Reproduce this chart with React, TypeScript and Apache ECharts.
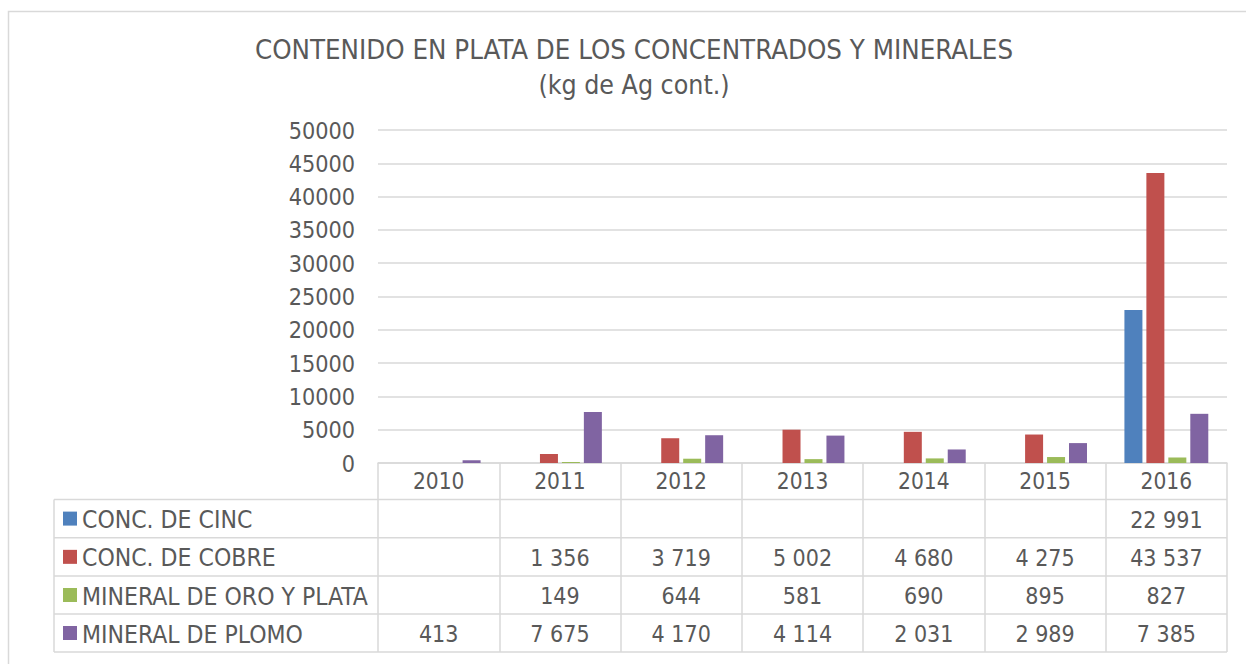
import React, { useEffect, useRef } from "react";
import * as echarts from "echarts";

const years = ["2010", "2011", "2012", "2013", "2014", "2015", "2016"];
const seriesNames = ["CONC. DE CINC", "CONC. DE COBRE", "MINERAL DE ORO Y PLATA", "MINERAL DE PLOMO"];
const cinc: (number | null)[] = [null, null, null, null, null, null, 22991];
const cobre: (number | null)[] = [null, 1356, 3719, 5002, 4680, 4275, 43537];
const oroPlata: (number | null)[] = [null, 149, 644, 581, 690, 895, 827];
const plomo: (number | null)[] = [413, 7675, 4170, 4114, 2031, 2989, 7385];
const colors = ["#4F81BD", "#C0504D", "#9BBB59", "#8064A2"];
const titleLines = ["CONTENIDO EN PLATA DE LOS CONCENTRADOS Y MINERALES", "(kg de Ag cont.)"];
const titleSizes = [27.4, 26.5];

const FONT = "'DejaVu Sans Condensed', 'DejaVu Sans', sans-serif";
const TXT = "#595959";
const LINE = "#d9d9d9";

function fmt(v: number | null): string {
  if (v === null || v === undefined) return "";
  return String(v).replace(/\B(?=(\d{3})+(?!\d))/g, " ");
}

export default function App() {
  const ref = useRef<HTMLDivElement>(null);
  useEffect(() => {
    document.body.style.margin = "0";
    const chart = echarts.init(ref.current!, undefined, { renderer: "svg" });
    const allSeries = [cinc, cobre, oroPlata, plomo];
    const gridLeft = 378;
    const gridRight = 1227;
    const gridBottomY = 463;
    const tableLeft = 54;
    const rowLines = [499.5, 537.7, 576, 614, 652];
    chart.setOption({
      animation: false,
      color: colors,
      textStyle: { fontFamily: FONT },
      grid: { left: gridLeft, right: 1246 - gridRight, top: 130, bottom: 664 - gridBottomY },
      xAxis: {
        type: "category",
        data: years,
        axisLine: { show: true, lineStyle: { color: LINE, width: 1.5 } },
        axisTick: { show: true, interval: 0, length: rowLines[rowLines.length - 1] - gridBottomY, lineStyle: { color: LINE, width: 1.5 } },
        axisLabel: { color: TXT, fontSize: 22.5, margin: 6, fontFamily: FONT },
      },
      yAxis: {
        type: "value",
        min: 0,
        max: 50000,
        interval: 5000,
        axisLine: { show: false },
        axisTick: { show: false },
        axisLabel: { color: TXT, fontSize: 23.2, margin: 23, fontFamily: FONT, formatter: (v: number) => String(v) },
        splitLine: { lineStyle: { color: LINE, width: 1.5 } },
      },
      series: allSeries.map((d, i) => ({
        type: "bar",
        name: seriesNames[i],
        data: d,
        barWidth: 18,
        barGap: "22%",
        itemStyle: { color: colors[i] },
      })),
    });

    const graphics: any[] = [];
    graphics.push({
      type: "rect",
      shape: { x: 8.5, y: 11.5, width: 1300, height: 700 },
      style: { fill: "none", stroke: LINE, lineWidth: 1.5 },
      silent: true,
    });
    titleLines.forEach((t, i) => {
      graphics.push({
        type: "text",
        x: 634,
        y: 49 + i * 35,
        style: { text: t, fill: TXT, fontSize: titleSizes[i], fontFamily: FONT, textAlign: "center", textVerticalAlign: "middle" },
      });
    });
    rowLines.forEach((y) => {
      graphics.push({
        type: "line",
        shape: { x1: tableLeft, y1: y, x2: gridRight, y2: y },
        style: { stroke: LINE, lineWidth: 1.5 },
      });
    });
    graphics.push({
      type: "line",
      shape: { x1: tableLeft, y1: rowLines[0], x2: tableLeft, y2: rowLines[rowLines.length - 1] },
      style: { stroke: LINE, lineWidth: 1.5 },
    });
    allSeries.forEach((d, r) => {
      const cy = (rowLines[r] + rowLines[r + 1]) / 2;
      graphics.push({
        type: "rect",
        shape: { x: 63, y: cy - 7, width: 14, height: 14 },
        style: { fill: colors[r] },
      });
      graphics.push({
        type: "text",
        x: 82,
        y: cy + 1,
        style: { text: seriesNames[r], fill: TXT, fontSize: 24.5, fontFamily: FONT, textAlign: "left", textVerticalAlign: "middle" },
      });
      d.forEach((v, c) => {
        const cx = chart.convertToPixel({ xAxisIndex: 0 }, c) as number;
        graphics.push({
          type: "text",
          x: cx,
          y: cy + 1,
          style: { text: fmt(v), fill: TXT, fontSize: 23, fontFamily: FONT, textAlign: "center", textVerticalAlign: "middle" },
        });
      });
    });
    chart.setOption({ graphic: graphics });
    return () => chart.dispose();
  }, []);
  return <div ref={ref} style={{ width: 1246, height: 664 }} />;
}
